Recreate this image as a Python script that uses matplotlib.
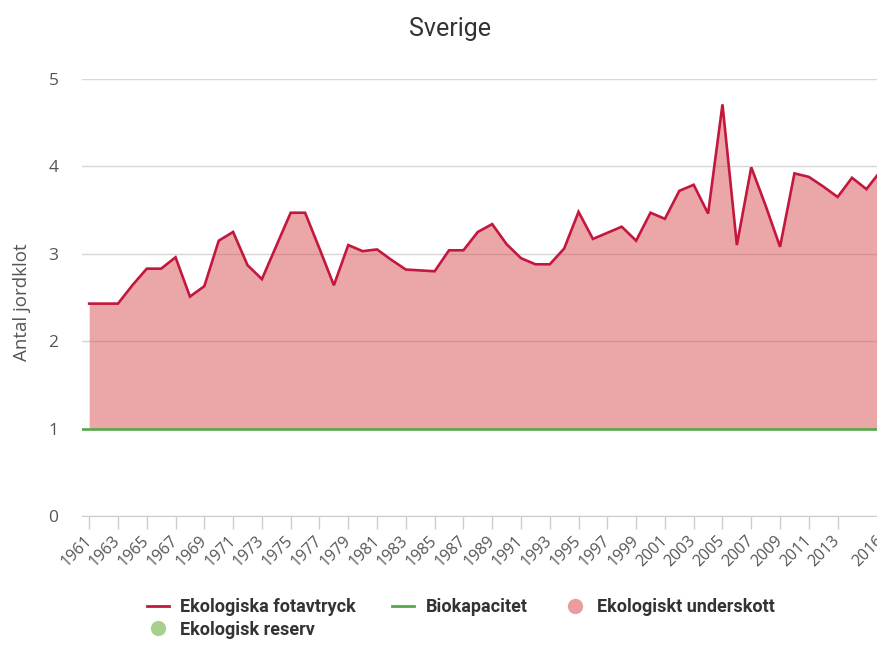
import numpy as np
import matplotlib.pyplot as plt
from matplotlib.lines import Line2D

# data
years = list(range(1961, 2017))
footprint = [2.43, 2.43, 2.43, 2.64, 2.83, 2.83, 2.96, 2.51, 2.63, 3.15,
             3.25, 2.87, 2.71, 3.09, 3.47, 3.47, 3.06, 2.64, 3.10, 3.03,
             3.05, 2.93, 2.82, 2.81, 2.80, 3.04, 3.04, 3.25, 3.34, 3.11,
             2.95, 2.88, 2.88, 3.06, 3.48, 3.17, 3.24, 3.31, 3.15, 3.47,
             3.40, 3.72, 3.79, 3.46, 4.71, 3.10, 3.99, 3.55, 3.08, 3.92,
             3.88, 3.77, 3.65, 3.87, 3.74, 3.95]
biocapacity = 1.0
tick_years = list(range(1961, 2014, 2)) + [2016]
y_ticks = [0, 1, 2, 3, 4, 5]

RED = '#c4173f'
GREEN = '#55a84b'
DEFICIT = '#d95050'
RESERVE = '#a8d08d'
NARROW = ['Roboto', 'DejaVu Sans']

x = np.array(years)
fp = np.array(footprint)

fig = plt.figure(figsize=(8.77, 6.51), dpi=100)
# plot area runs past the right edge, as in the cropped original
ax = fig.add_axes([82 / 877, 1 - 516 / 651, 806 / 877, 437 / 651])

ax.fill_between(x, fp, biocapacity, where=fp >= biocapacity, color=DEFICIT,
                alpha=0.5, linewidth=0, zorder=2)
ax.fill_between(x, fp, biocapacity, where=fp < biocapacity, color=RESERVE,
                alpha=0.8, linewidth=0, zorder=2)
ax.plot(x, fp, color=RED, linewidth=1.9, zorder=4, solid_joinstyle='miter')
ax.axhline(biocapacity, color=GREEN, linewidth=1.9, zorder=3)

ax.set_xlim(1960.5, 2016.5)
ax.set_ylim(0, 5)
ax.set_yticks(y_ticks)
ax.set_xticks(tick_years)
ax.set_xticklabels([str(t) for t in tick_years])
ax.grid(axis='y', color='#d6d6d6', linewidth=1, zorder=0)
ax.set_axisbelow(True)

for s in ['top', 'right', 'left']:
    ax.spines[s].set_visible(False)
ax.spines['bottom'].set_color('#cccccc')
ax.spines['bottom'].set_zorder(5)

ax.tick_params(axis='y', length=0, pad=17, labelsize=12.5, labelcolor='#555555')
ax.tick_params(axis='x', length=9, width=1, color='#cccccc', pad=7,
               labelsize=11.5, labelcolor='#555555')
for lab in ax.get_yticklabels():
    lab.set_family('Open Sans')
for lab in ax.get_xticklabels():
    lab.set_family('Open Sans')
    lab.set_rotation(45)
    lab.set_ha('right')
    lab.set_va('center')
    lab.set_rotation_mode('anchor')

fig.text(450 / 877, 1 - 29 / 651, 'Sverige', ha='center', va='center',
         fontsize=18, color='#333333', family=NARROW)
fig.text(22 / 877, 1 - 302 / 651, 'Antal jordklot', rotation=90,
         ha='center', va='center', fontsize=13.5, color='#555555',
         family='Open Sans')

handles = [
    Line2D([], [], color=RED, linewidth=2),
    Line2D([], [], linestyle='none', marker='o', markersize=11,
           markerfacecolor=RESERVE, markeredgecolor='none'),
    Line2D([], [], color=GREEN, linewidth=2),
    Line2D([], [], linestyle='none', marker='o', markersize=11,
           markerfacecolor='#ec9c9c', markeredgecolor='none'),
]
labels = ['Ekologiska fotavtryck', 'Ekologisk reserv', 'Biokapacitet',
          'Ekologiskt underskott']
leg = fig.legend(handles, labels, ncol=3, loc='upper left',
                 bbox_to_anchor=(147 / 877, 1 - 598 / 651), frameon=False,
                 borderpad=0, borderaxespad=0, handlelength=1.2,
                 handletextpad=0.65, columnspacing=2.0, labelspacing=0.25,
                 prop={'family': NARROW, 'weight': 'bold', 'size': 13})
for t in leg.get_texts():
    t.set_color('#333333')

plt.savefig('out.png', dpi=100)
